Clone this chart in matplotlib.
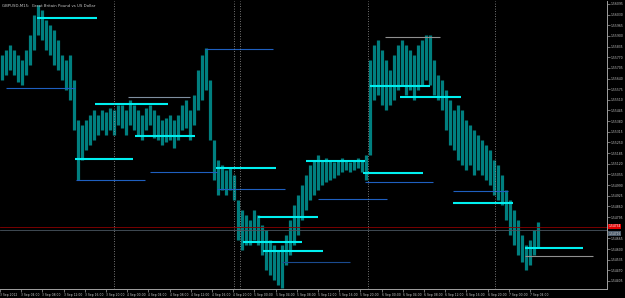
import matplotlib
matplotlib.use('Agg')
import matplotlib.pyplot as plt
import numpy as np

# GBPUSD M15 bars (grouped), high / low
highs = [1.55784, 1.55814, 1.55845, 1.55814, 1.55784, 1.55753, 1.55814, 1.55906, 1.56028, 1.56088,
         1.56058, 1.55997, 1.55967, 1.55936, 1.55875, 1.55784, 1.55753, 1.55784, 1.55631, 1.55387,
         1.55357, 1.55387, 1.55418, 1.55448, 1.55418, 1.55448, 1.55436, 1.55460, 1.55448, 1.55479,
         1.55479, 1.55448, 1.55509, 1.55479, 1.55448, 1.55418, 1.55460, 1.55479, 1.55448, 1.55418,
         1.55387, 1.55399, 1.55418, 1.55387, 1.55418, 1.55479, 1.55509, 1.55448, 1.55540, 1.55692,
         1.55784, 1.55826, 1.55631, 1.55265, 1.55143, 1.55113, 1.55082, 1.55094, 1.55052, 1.54899,
         1.54838, 1.54808, 1.54777, 1.54838, 1.54808, 1.54747, 1.54716, 1.54655, 1.54625, 1.54594,
         1.54625, 1.54686, 1.54777, 1.54869, 1.54930, 1.54991, 1.55052, 1.55113, 1.55143, 1.55174,
         1.55143, 1.55155, 1.55143, 1.55131, 1.55143, 1.55155, 1.55143, 1.55131, 1.55143, 1.55155,
         1.55143, 1.55174, 1.55753, 1.55845, 1.55875, 1.55814, 1.55753, 1.55692, 1.55784, 1.55845,
         1.55875, 1.55845, 1.55814, 1.55784, 1.55845, 1.55875, 1.55906, 1.55906, 1.55753, 1.55662,
         1.55631, 1.55570, 1.55509, 1.55448, 1.55479, 1.55448, 1.55387, 1.55357, 1.55326, 1.55296,
         1.55265, 1.55235, 1.55204, 1.55143, 1.55113, 1.55052, 1.54960, 1.54899, 1.54838, 1.54777,
         1.54686, 1.54625, 1.54655, 1.54716, 1.54765]
lows = [1.55631, 1.55662, 1.55692, 1.55662, 1.55619, 1.55601, 1.55662, 1.55723, 1.55814, 1.55906,
        1.55875, 1.55814, 1.55784, 1.55723, 1.55692, 1.55631, 1.55570, 1.55509, 1.55326, 1.55021,
        1.55143, 1.55204, 1.55235, 1.55265, 1.55296, 1.55326, 1.55296, 1.55326, 1.55296, 1.55357,
        1.55338, 1.55296, 1.55357, 1.55326, 1.55296, 1.55265, 1.55326, 1.55357, 1.55277, 1.55265,
        1.55235, 1.55253, 1.55265, 1.55216, 1.55265, 1.55326, 1.55338, 1.55265, 1.55357, 1.55448,
        1.55509, 1.55570, 1.55265, 1.55021, 1.54930, 1.54960, 1.54930, 1.54960, 1.54899, 1.54655,
        1.54594, 1.54625, 1.54625, 1.54655, 1.54625, 1.54564, 1.54472, 1.54442, 1.54411, 1.54381,
        1.54362, 1.54503, 1.54564, 1.54625, 1.54686, 1.54777, 1.54838, 1.54899, 1.54930, 1.54960,
        1.54991, 1.55009, 1.55021, 1.55033, 1.55052, 1.55070, 1.55082, 1.55070, 1.55082, 1.55094,
        1.55070, 1.55021, 1.55174, 1.55509, 1.55540, 1.55479, 1.55448, 1.55479, 1.55509, 1.55570,
        1.55601, 1.55540, 1.55570, 1.55509, 1.55570, 1.55601, 1.55631, 1.55601, 1.55540, 1.55509,
        1.55448, 1.55326, 1.55235, 1.55204, 1.55143, 1.55113, 1.55082, 1.55113, 1.55052, 1.55082,
        1.55052, 1.55021, 1.54991, 1.54930, 1.54899, 1.54869, 1.54777, 1.54686, 1.54625, 1.54564,
        1.54521, 1.54472, 1.54503, 1.54564, 1.54606]

# thick cyan levels: start, end, price
cyan_start = [9.25, 23.75, 33.75, 18.75, 54, 76.5, 90.75, 92.5, 100, 113.25, 64.5, 60.75, 65.75, 131.25]
cyan_end = [24.25, 42, 48.75, 33.25, 69, 91.25, 105.75, 107.5, 115.25, 128.25, 79.5, 75.5, 80.75, 145.75]
cyan_price = [1.56009, 1.55485, 1.55289, 1.55149, 1.55094, 1.55137, 1.55064, 1.55594, 1.55527,
              1.54881, 1.54795, 1.54643, 1.54588, 1.54606]

# thin levels
thin_start = [1.5, 32, 19, 37.5, 51.25, 54.25, 79.5, 91.25, 96.25, 113.25, 70.5, 131.25]
thin_end = [18.75, 47.5, 36.25, 54.25, 68.25, 71.25, 96.75, 108.25, 110, 127, 87.5, 148.25]
thin_price = [1.55582, 1.55527, 1.55021, 1.55070, 1.55820, 1.54966, 1.54905, 1.55009, 1.55893,
              1.54954, 1.54521, 1.54557]
thin_color = ['#1f5fbf', '#7f8fa0', '#1f5fbf', '#1f5fbf', '#1f5fbf', '#1f5fbf', '#1f5fbf',
              '#1f5fbf', '#8f8f8f', '#1f5fbf', '#1a4a8f', '#8f8f8f']

separators = [28.5, 58.5, 60.0, 92.0, 123.75]
ask_price = 1.54734
bid_price = 1.54716

price_ticks = [1.56095 - 0.00065 * k for k in range(27)]
time_labels = ['3 Sep 2012'] + ['%d Sep %02d:00' % (3 + (4 * k) // 24, (4 * k) % 24) for k in range(1, 26)]
time_ticks = [5.3 * k for k in range(26)]

fig = plt.figure(figsize=(6.25, 2.98), dpi=100, facecolor='black')
ax = fig.add_axes([0, 9 / 298, 607 / 625, 288 / 298], facecolor='black')

xs = np.arange(len(highs)) + 0.5
ax.vlines(xs, lows, highs, color='#007f7f', linewidth=2.3)

ax.hlines(cyan_price, cyan_start, cyan_end, color='#00f0f0', linewidth=1.5)
ax.hlines(thin_price, thin_start, thin_end, colors=thin_color, linewidth=0.8)

for s in separators:
    ax.axvline(s, color='#9a9a9a', linestyle=(0, (1, 2)), linewidth=0.6)

ax.axhline(ask_price, color='#8b0000', linewidth=0.6)
ax.axhline(bid_price, color='#4a5560', linewidth=0.6)

ax.set_xlim(0, 151.75)
ax.set_ylim(1.54356, 1.56113)

for sp in ['top', 'left']:
    ax.spines[sp].set_visible(False)
for sp in ['right', 'bottom']:
    ax.spines[sp].set_color('#a0a0a0')
    ax.spines[sp].set_linewidth(0.7)

# the price box hides the scale label underneath it
ylabels = ['' if abs(p - ask_price) < 0.0003 else '%.5f' % p for p in price_ticks]

ax.yaxis.tick_right()
ax.set_yticks(price_ticks)
ax.set_yticklabels(ylabels)
ax.set_xticks(time_ticks)
ax.set_xticklabels(time_labels, ha='left')
ax.tick_params(axis='both', colors='#a0a0a0', labelcolor='#c8c8c8', labelsize=2.2, length=2, width=0.5, pad=0.8)

# price boxes on the right scale, stacked
ax.text(1.002, ask_price + 0.00004, '%.5f' % ask_price, transform=ax.get_yaxis_transform(), fontsize=2.2,
        color='white', va='center', ha='left', bbox=dict(facecolor='#e00000', edgecolor='none', pad=0.4))
ax.text(1.002, bid_price - 0.00022, '%.5f' % bid_price, transform=ax.get_yaxis_transform(), fontsize=2.2,
        color='#d0d0d0', va='center', ha='left', bbox=dict(facecolor='#4a5a6a', edgecolor='none', pad=0.4))

fig.text(0.004, 0.975, 'GBPUSD,M15:  Great Britain Pound vs US Dollar', fontsize=2.8, color='#c8c8c8')

fig.savefig('out.png', dpi=100, facecolor='black')
